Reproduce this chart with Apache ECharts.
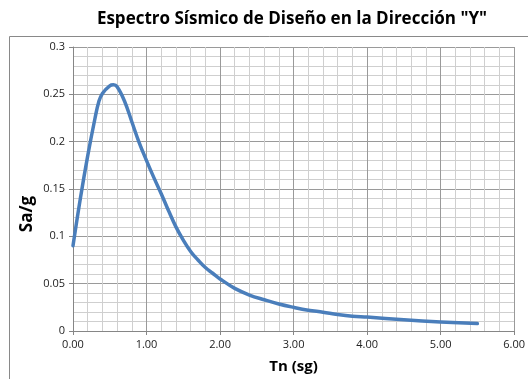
<!DOCTYPE html>
<html>
<head>
<meta charset="utf-8">
<script src="https://cdn.jsdelivr.net/npm/echarts@6/dist/echarts.min.js"></script>
<style>
html,body{margin:0;padding:0;background:#fff;}
#c{width:528px;height:379px;}
</style>
</head>
<body>
<div id="c"></div>
<script>
const title = 'Espectro Sísmico de Diseño en la Dirección "Y"';
const xAxisName = 'Tn (sg)';
const yAxisName = 'Sa/g';
const periods = [0, 0.1, 0.2, 0.3, 0.35, 0.4, 0.5, 0.55, 0.6, 0.7, 0.8, 0.9, 1.0, 1.1, 1.2, 1.3, 1.4, 1.5, 1.6, 1.7, 1.8, 1.9, 2.0, 2.2, 2.4, 2.6, 2.8, 3.0, 3.2, 3.4, 3.6, 3.8, 4.0, 4.5, 5.0, 5.5];
const saValues = [0.090, 0.140, 0.185, 0.225, 0.242, 0.251, 0.259, 0.260, 0.258, 0.243, 0.221, 0.199, 0.180, 0.162, 0.145, 0.127, 0.110, 0.096, 0.084, 0.075, 0.067, 0.061, 0.055, 0.045, 0.038, 0.033, 0.0285, 0.025, 0.022, 0.0199, 0.0175, 0.0157, 0.0147, 0.0118, 0.0095, 0.0078];
const xTicks = [0, 1, 2, 3, 4, 5, 6];
const yTicks = [0, 0.05, 0.1, 0.15, 0.2, 0.25, 0.3];

const chart = echarts.init(document.getElementById('c'), null, {renderer: 'canvas'});
const font = '"Open Sans", "Liberation Sans", sans-serif';
chart.setOption({
  animation: false,
  backgroundColor: '#fff',
  title: {
    text: title, left: 287, top: 6, textAlign: 'center',
    textStyle: {fontFamily: font, fontSize: 17, fontWeight: 'bold', color: '#000'}
  },
  graphic: [
    {type: 'rect', shape: {x: 9.5, y: 36.5, width: 560, height: 400}, style: {fill: 'none', stroke: '#898989', lineWidth: 1}, z: -1},
    {type: 'text', x: 27, y: 214, rotation: Math.PI / 2,
     style: {x: 0, y: 0, text: yAxisName, align: 'center', verticalAlign: 'middle', font: 'bold 17px ' + font, fill: '#000'}}
  ],
  grid: {left: 73, right: 11, top: 47, bottom: 45},
  xAxis: {
    type: 'value', min: xTicks[0], max: xTicks[xTicks.length - 1], interval: 1,
    name: xAxisName, nameLocation: 'middle', nameGap: 28,
    nameTextStyle: {fontFamily: font, fontSize: 15, fontWeight: 'bold', color: '#000'},
    axisLine: {show: true, lineStyle: {color: '#868686', width: 1}},
    axisTick: {show: true, length: 4, lineStyle: {color: '#868686'}},
    axisLabel: {fontFamily: font, fontSize: 11, color: '#222', margin: 8, formatter: v => v.toFixed(2)},
    splitLine: {show: true, lineStyle: {color: '#9a9a9a', width: 1}},
    minorTick: {show: false, splitNumber: 5},
    minorSplitLine: {show: true, lineStyle: {color: '#cfcfcf', width: 1}}
  },
  yAxis: {
    type: 'value', min: yTicks[0], max: yTicks[yTicks.length - 1], interval: 0.05,
    axisLine: {show: true, lineStyle: {color: '#868686', width: 1}},
    axisTick: {show: true, length: 4, lineStyle: {color: '#868686'}},
    axisLabel: {fontFamily: font, fontSize: 11, color: '#222', margin: 8, formatter: v => String(Math.round(v * 100) / 100)},
    splitLine: {show: true, lineStyle: {color: '#9a9a9a', width: 1}},
    minorTick: {show: false, splitNumber: 5},
    minorSplitLine: {show: true, lineStyle: {color: '#cfcfcf', width: 1}}
  },
  series: [{
    type: 'line', smooth: 0.4, showSymbol: false,
    data: periods.map((t, i) => [t, saValues[i]]),
    lineStyle: {color: '#4a7ebb', width: 3.5, cap: 'round', join: 'round'},
    itemStyle: {color: '#4a7ebb'}
  }]
});
</script>
</body>
</html>
